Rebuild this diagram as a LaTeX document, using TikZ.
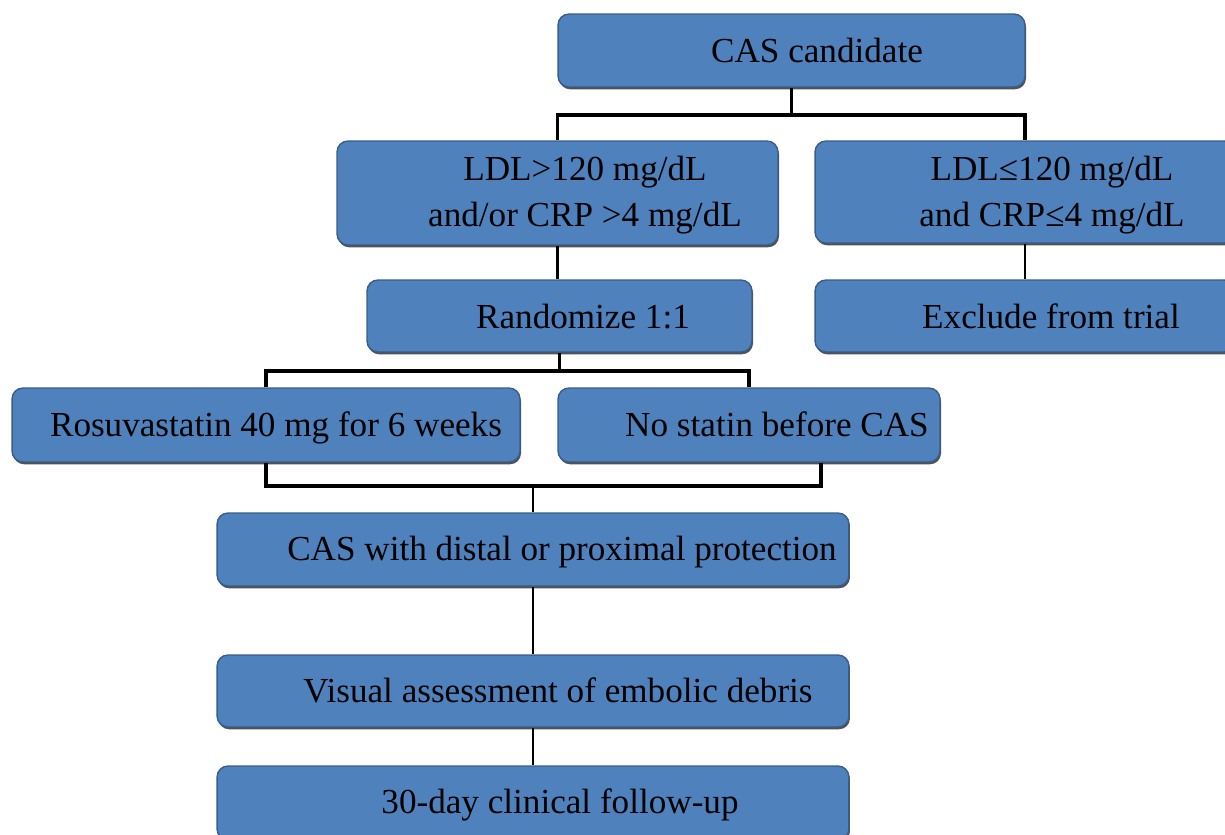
\documentclass[tikz,border=0pt]{standalone}
\usepackage{fontspec}
\setmainfont{Liberation Serif}
\usetikzlibrary{shadows}

\definecolor{boxfill}{RGB}{79,129,189}
\definecolor{boxline}{RGB}{56,93,138}

\begin{document}
\begin{tikzpicture}[
    x=.02cm,y=-.02cm,font=\fontsize{20}{26}\selectfont,
    box/.style={draw=boxline,fill=boxfill,line width=.8pt,rounded corners=.22cm,
        inner sep=0pt,drop shadow={shadow xshift=.6pt,shadow yshift=-1.3pt,
        opacity=.8,fill=black!85}},
    caption/.style={align=center,inner sep=0pt},
    line caption/.style={inner sep=0pt,anchor=base},
    link/.style={line width=2.2pt},
    thin link/.style={line width=1.3pt}
]
    \useasboundingbox (0,0) rectangle (1225,835);

    % Screening step and the two LDL/CRP branches.
    \node[box,minimum width=9.34cm,minimum height=1.46cm] (cand) at (791.5,50.5) {};
    \node[line caption] at (817,62) {CAS candidate};
    \node[box,minimum width=8.82cm,minimum height=2.08cm] (high) at (557.5,193) {};
    \node[caption] at (585,195) {LDL>120 mg/dL\\and/or CRP >4 mg/dL};
    \node[box,minimum width=8.4cm,minimum height=2.04cm] (low) at (1025,192) {};
    \node[caption] at (1052,195) {LDL≤120 mg/dL\\and CRP≤4 mg/dL};
    \node[box,minimum width=7.7cm,minimum height=1.44cm] (rand) at (559.5,316) {};
    \node[line caption] at (583,328) {Randomize 1:1};
    \node[box,minimum width=8.4cm,minimum height=1.44cm] (excl) at (1025,316) {};
    \node[line caption] at (1051,328) {Exclude from trial};

    % Treatment arms.
    \node[box,minimum width=10.16cm,minimum height=1.48cm] (rosu) at (266,425) {};
    \node[line caption] at (276,436) {Rosuvastatin 40 mg for 6 weeks};
    \node[box,minimum width=7.64cm,minimum height=1.48cm] (nost) at (749,425) {};
    \node[line caption] at (777,436) {No statin before CAS};

    % Procedure and follow-up.
    \node[box,minimum width=12.64cm,minimum height=1.46cm] (cas) at (533,549.5) {};
    \node[line caption] at (562,560) {CAS with distal or proximal protection};
    \node[box,minimum width=12.64cm,minimum height=1.44cm] (vis) at (533,691) {};
    \node[line caption] at (558,702) {Visual assessment of embolic debris};
    \node[box,minimum width=12.64cm,minimum height=1.48cm] (fup) at (533,803) {};
    \node[line caption] at (560,813) {30-day clinical follow-up};

    \coordinate (top split) at (791.5,115);
    \coordinate (rand split) at (559.5,371);
    \coordinate (arm join) at (533,486);

    \draw[link] (cand) -- (top split);
    \draw[link] (high.north) |- (top split) -| (low.north);
    \draw[link] (high.south) -- (high.south |- rand.north);
    \draw[thin link] (low) -- (excl);
    \draw[link] (rand) -- (rand split);
    \draw[link] (rosu.north) |- (rand split) -| (nost.north);
    \draw[link] (rosu.south) |- (arm join) -| ([xshift=1.44cm]nost.south);
    \draw[thin link] (arm join) -- (cas);
    \draw[thin link] (cas) -- (vis);
    \draw[thin link] (vis) -- (fup);
\end{tikzpicture}
\end{document}
